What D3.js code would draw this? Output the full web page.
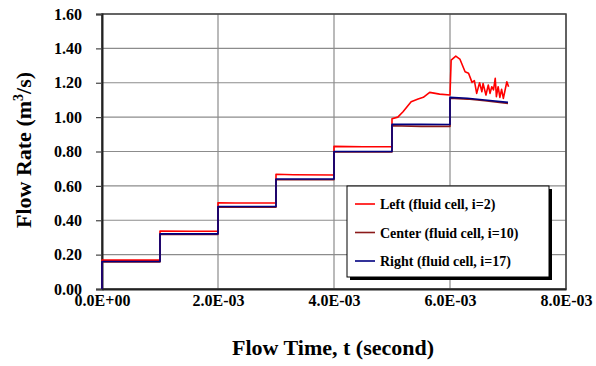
<!DOCTYPE html>
<html>
<head>
<meta charset="utf-8">
<script src="https://cdn.jsdelivr.net/npm/d3@7"></script>
<style>
  body { margin: 0; background: #fff; }
  text { font-family: "Liberation Serif", "Times New Roman", serif; font-weight: bold; }
</style>
</head>
<body>
<script>
// time in seconds, flow rate in m^3/s
const leftData = [
  [0, 0], [0, 0.168], [0.0005, 0.168], [0.001, 0.168],
  [0.001, 0.337], [0.0015, 0.336], [0.002, 0.336],
  [0.002, 0.502], [0.0023, 0.500], [0.003, 0.500],
  [0.003, 0.668], [0.0033, 0.665], [0.004, 0.663],
  [0.004, 0.830], [0.0045, 0.828], [0.005, 0.828],
  [0.005, 0.990], [0.0051, 1.000], [0.00519, 1.031], [0.00533, 1.090], [0.00545, 1.105],
  [0.00554, 1.115], [0.00565, 1.144], [0.00582, 1.134], [0.006, 1.129],
  [0.00602, 1.332], [0.0061, 1.355], [0.00617, 1.338], [0.00626, 1.264], [0.00632, 1.255],
  [0.00638, 1.202], [0.00642, 1.212], [0.00646, 1.138], [0.00651, 1.200], [0.00655, 1.148],
  [0.00657, 1.196], [0.00662, 1.129], [0.00666, 1.187], [0.00669, 1.138], [0.00672, 1.177],
  [0.00675, 1.158], [0.00678, 1.226], [0.0068, 1.119], [0.00683, 1.177], [0.00686, 1.115],
  [0.00689, 1.162], [0.00692, 1.109], [0.00695, 1.158], [0.00698, 1.206], [0.00701, 1.177]
];
const centerData = [
  [0, 0], [0, 0.157], [0.0005, 0.157], [0.001, 0.157],
  [0.001, 0.318], [0.0015, 0.318], [0.002, 0.318],
  [0.002, 0.476], [0.0025, 0.476], [0.003, 0.476],
  [0.003, 0.636], [0.0035, 0.636], [0.004, 0.636],
  [0.004, 0.797], [0.0045, 0.797], [0.005, 0.797],
  [0.005, 0.950], [0.0055, 0.946], [0.006, 0.946],
  [0.006, 1.110], [0.0063, 1.105], [0.0066, 1.095], [0.007, 1.080]
];
const rightData = [
  [0, 0], [0, 0.160], [0.0005, 0.160], [0.001, 0.160],
  [0.001, 0.321], [0.0015, 0.321], [0.002, 0.321],
  [0.002, 0.480], [0.0025, 0.480], [0.003, 0.480],
  [0.003, 0.640], [0.0035, 0.640], [0.004, 0.640],
  [0.004, 0.800], [0.0045, 0.800], [0.005, 0.800],
  [0.005, 0.958], [0.0055, 0.958], [0.006, 0.957],
  [0.006, 1.115], [0.0063, 1.110], [0.0066, 1.100], [0.007, 1.086]
];
const seriesNames = ["Left (fluid cell, i=2)", "Center (fluid cell, i=10)", "Right (fluid cell, i=17)"];
const seriesColors = ["#ff0000", "#8b1a1a", "#000080"];
const xTicks = [0, 0.002, 0.004, 0.006, 0.008];
const yTicks = [0, 0.2, 0.4, 0.6, 0.8, 1.0, 1.2, 1.4, 1.6];

const svgWidth = 596, svgHeight = 366,
    margin = { top: 14, right: 30, bottom: 77, left: 102 },
    width = 566 - margin.left,
    height = 289 - margin.top;

const svg = d3.select("body").append("svg")
    .attr("width", svgWidth)
    .attr("height", svgHeight);

const g = svg.append("g")
    .attr("transform", "translate(" + margin.left + "," + margin.top + ")");

const x = d3.scaleLinear().domain([0, 0.008]).range([0, width]);
const y = d3.scaleLinear().domain([0, 1.6]).range([height, 0]);

// format like Excel: 2.0E-03
function sciFormat(v) {
    if (v === 0) return "0.0E+00";
    const e = Math.floor(Math.log10(Math.abs(v)));
    const m = v / Math.pow(10, e);
    const es = (e < 0 ? "-" : "+") + String(Math.abs(e)).padStart(2, "0");
    return m.toFixed(1) + "E" + es;
}

// gridlines
g.append("g")
    .selectAll("line")
    .data(yTicks)
    .enter().append("line")
    .attr("x1", 0).attr("x2", width)
    .attr("y1", d => y(d)).attr("y2", d => y(d))
    .attr("stroke", "#8c8c8c").attr("stroke-width", 1.2);
g.append("g")
    .selectAll("line")
    .data(xTicks)
    .enter().append("line")
    .attr("x1", d => x(d)).attr("x2", d => x(d))
    .attr("y1", 0).attr("y2", height)
    .attr("stroke", "#8c8c8c").attr("stroke-width", 1.2);

// frame
g.append("rect")
    .attr("width", width).attr("height", height)
    .attr("fill", "none").attr("stroke", "#444").attr("stroke-width", 1.5);

// axes
const yAxis = g.append("g")
    .call(d3.axisLeft(y).tickValues(yTicks).tickSize(6).tickFormat(d3.format(".2f")));
const xAxis = g.append("g")
    .attr("transform", "translate(0," + height + ")")
    .call(d3.axisBottom(x).tickValues(xTicks).tickSize(0).tickPadding(6).tickFormat(sciFormat));
[yAxis, xAxis].forEach(a => {
    a.select(".domain").attr("stroke", "#222").attr("stroke-width", 2);
    a.selectAll(".tick line").attr("stroke", "#444").attr("stroke-width", 1.2);
    a.selectAll("text").attr("font-size", 16).attr("fill", "#000")
        .style("font-family", "'Liberation Serif', serif").style("font-weight", "bold");
});
yAxis.selectAll("text").attr("x", -20);

// lines
const line = d3.line().x(d => x(d[0])).y(d => y(d[1]));
[leftData, centerData, rightData].forEach((data, i) => {
    g.append("path")
        .datum(data)
        .attr("d", line)
        .attr("fill", "none")
        .attr("stroke", seriesColors[i])
        .attr("stroke-width", 1.6)
        .attr("stroke-linejoin", "round");
});

// axis titles
svg.append("text")
    .attr("x", 333).attr("y", 355)
    .attr("text-anchor", "middle")
    .attr("font-size", 22)
    .text("Flow Time, t (second)");

const yt = svg.append("text")
    .attr("transform", "translate(31,150) rotate(-90)")
    .attr("text-anchor", "middle")
    .attr("font-size", 22);
yt.append("tspan").text("Flow Rate (m");
yt.append("tspan").attr("dy", -8).attr("font-size", 14).text("3");
yt.append("tspan").attr("dy", 8).text("/s)");

// legend
const lg = svg.append("g").attr("transform", "translate(347,186)");
lg.append("rect").attr("x", 3).attr("y", 3).attr("width", 202).attr("height", 91).attr("fill", "#000");
lg.append("rect").attr("width", 202).attr("height", 91).attr("fill", "#fff")
    .attr("stroke", "#000").attr("stroke-width", 1);
seriesNames.forEach((name, i) => {
    const row = lg.append("g").attr("transform", "translate(0," + (18 + i * 28.5) + ")");
    row.append("line").attr("x1", 8).attr("x2", 28).attr("y1", 0).attr("y2", 0)
        .attr("stroke", seriesColors[i]).attr("stroke-width", 1.6);
    row.append("text").attr("x", 33).attr("y", 5).attr("font-size", 14).text(name);
});
</script>
</body>
</html>
